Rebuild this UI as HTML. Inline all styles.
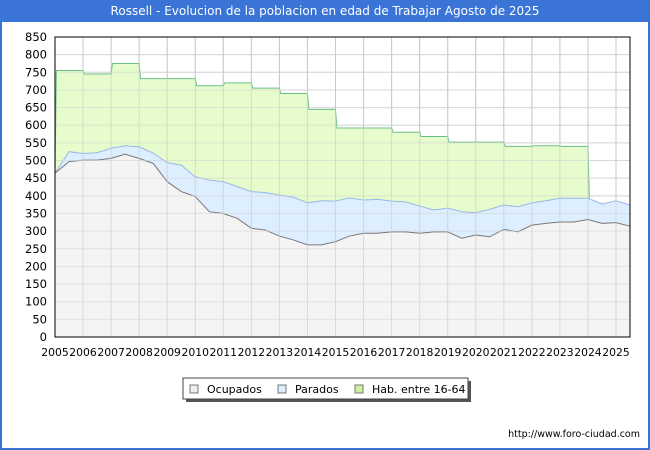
<!DOCTYPE html>
<html><head><meta charset="utf-8"><style>
body{margin:0;background:#fff;font-family:"DejaVu Sans","Liberation Sans",sans-serif;}
#wrap{position:relative;width:650px;height:450px;box-sizing:border-box;border:2px solid #3a74d6;border-top:none;overflow:hidden}
#title{position:absolute;left:0;top:0;width:650px;height:22px;background:#3a74d6;color:#fff;font-size:12px;line-height:22px;text-align:center;margin-left:-2px}
svg{position:absolute;left:-2px;top:0;font-family:"DejaVu Sans","Liberation Sans",sans-serif}
</style></head><body>
<div id="wrap">
<div id="title">Rossell - Evolucion de la poblacion en edad de Trabajar Agosto de 2025</div>
<svg id="chart" width="650" height="450"></svg>
</div>
<script>
const times=[2005,2005.5,2006,2006.5,2007,2007.5,2008,2008.5,2009,2009.5,2010,2010.5,2011,2011.5,2012,2012.5,2013,2013.5,2014,2014.5,2015,2015.5,2016,2016.5,2017,2017.5,2018,2018.5,2019,2019.5,2020,2020.5,2021,2021.5,2022,2022.5,2023,2023.5,2024,2024.5,2025,2025.5];
const totalActive=[464,525,520,522,535,542,539,521,494,487,454,445,440,426,412,409,402,396,380,386,385,394,388,390,385,383,371,360,365,355,352,362,374,369,380,386,393,393,393,377,386,374];
const ocupados=[464,497,501,501,506,518,506,492,440,412,398,355,350,336,308,303,286,275,261,261,270,286,294,294,298,298,294,298,298,280,289,284,305,298,317,322,326,326,333,322,324,314];
const habYears=[2005,2006,2007,2008,2009,2010,2011,2012,2013,2014,2015,2016,2017,2018,2019,2020,2021,2022,2023];
const habValues=[755,745,775,732,732,712,720,705,690,645,592,592,580,568,552,552,540,542,540];
const yTicks=[0,50,100,150,200,250,300,350,400,450,500,550,600,650,700,750,800,850];
const xTicks=[2005,2006,2007,2008,2009,2010,2011,2012,2013,2014,2015,2016,2017,2018,2019,2020,2021,2022,2023,2024,2025];

const L=55,R=630,T=37,B=337;
const X=t=>L+(t-2005)*28.05;
const Y=v=>B-v*(B-T)/850;
const svg=document.getElementById('chart');
const NS='http://www.w3.org/2000/svg';
function mk(tag,attrs,parent){const e=document.createElementNS(NS,tag);for(const k in attrs)e.setAttribute(k,attrs[k]);(parent||svg).appendChild(e);return e;}

yTicks.forEach(v=>{const l=mk('line',{x1:L,x2:R,y1:Y(v),y2:Y(v),stroke:'#dcdcdc','stroke-width':1});


const t=mk('text',{x:47,y:Y(v)+4,'text-anchor':'end','font-size':11.5,fill:'#000'});t.textContent=v;

});
xTicks.forEach(yr=>{const l=mk('line',{x1:X(yr),x2:X(yr),y1:T,y2:B,stroke:'#cccccc','stroke-width':1});


const t=mk('text',{x:X(yr),y:356,'text-anchor':'middle','font-size':10.8,fill:'#000'});t.textContent=yr;

});

let hp=[[X(2005),Y(totalActive[0])]];
habYears.forEach((yr,i)=>{hp.push([X(yr+0.05),Y(habValues[i])]);hp.push([X(yr+1),Y(habValues[i])]);});
hp.push([X(2024.05),Y(totalActive[38])]);
const habArea=mk('polygon',{points:hp.map(p=>p.join(',')).join(' ')+` ${X(2024.05)},${B} ${X(2005)},${B}`,fill:'#e6fccc',stroke:'none'});


const habLine=mk('polyline',{points:hp.map(p=>p.join(',')).join(' '),fill:'none',stroke:'#6cbf84','stroke-width':1});



function area(vals,fill,stroke,name){
  const pts=times.map((t,i)=>[Math.min(X(t),R),Y(vals[i])]);
  const a=mk('polygon',{points:pts.map(p=>p.join(',')).join(' ')+` ${R},${B} ${L},${B}`,fill:fill,stroke:'none'});
  
  
  const l=mk('polyline',{points:pts.map(p=>p.join(',')).join(' '),fill:'none',stroke:stroke,'stroke-width':1});
  
  
}
area(totalActive,'#ddeeff','#99b8e8','parados');
area(ocupados,'#f4f4f4','#777777','ocupados');

yTicks.forEach(v=>{const l=mk('line',{x1:L,x2:R,y1:Y(v),y2:Y(v),stroke:'#d4d4d4','stroke-width':1,'stroke-opacity':0.6});

});
xTicks.forEach(yr=>{const l=mk('line',{x1:X(yr),x2:X(yr),y1:T,y2:B,stroke:'#c8c8c8','stroke-width':1,'stroke-opacity':0.6});

});

const frame=mk('rect',{x:L,y:T,width:R-L,height:B-T,fill:'none',stroke:'#000','stroke-width':1});



const lg=mk('g',{});


mk('rect',{x:186,y:381,width:285,height:21,fill:'#555'},lg);
mk('rect',{x:183,y:378,width:285,height:21,fill:'#fff',stroke:'#444'},lg);
[['Ocupados','#eeeeee',190],['Parados','#ddeeff',278],['Hab. entre 16-64','#ccf0a0',355]].forEach(e=>{
  const g=mk('g',{},lg);
  
  
  mk('rect',{x:e[2],y:385,width:8,height:8,fill:e[1],stroke:'#777'},g);
  const t=mk('text',{x:e[2]+17,y:393,'font-size':11,fill:'#000'},g);t.textContent=e[0];
});
const ft=mk('text',{x:640,y:437,'text-anchor':'end','font-size':9.5,fill:'#000'});ft.textContent='http://www.foro-ciudad.com';


</script>
</body></html>
